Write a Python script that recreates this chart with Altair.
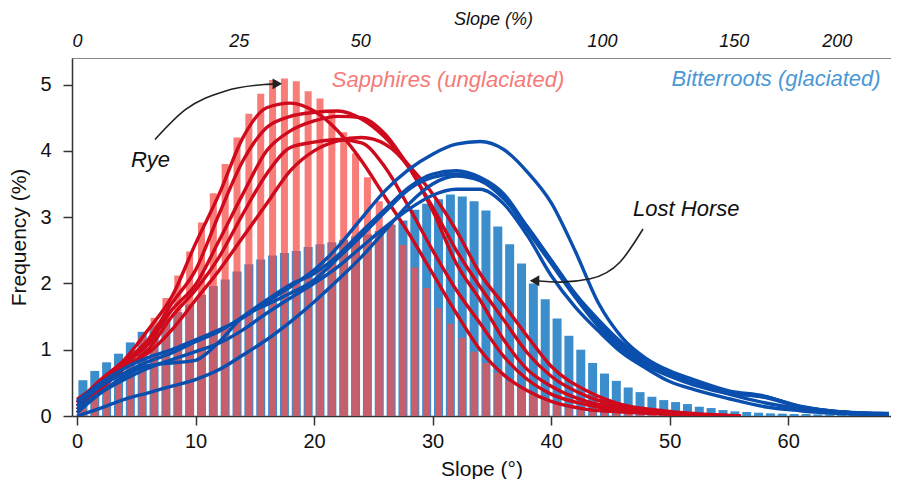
import altair as alt
import pandas as pd

FONT = "Liberation Sans"

# ---------------- histogram data (1-degree bins) ----------------
bin_start = list(range(68))
bitterroots_freq = [
    0.54, 0.68, 0.81, 0.94, 1.11, 1.27, 1.37, 1.46, 1.57, 1.68,
    1.83, 1.96, 2.06, 2.18, 2.29, 2.36, 2.42, 2.46, 2.49, 2.55,
    2.59, 2.62, 2.66, 2.71, 2.74, 2.79, 2.88, 2.95, 3.11, 3.20,
    3.27, 3.34, 3.31, 3.24, 3.10, 2.86, 2.59, 2.30, 2.00, 1.76,
    1.47, 1.21, 1.00, 0.80, 0.64, 0.53, 0.43, 0.36, 0.29, 0.24,
    0.21, 0.18, 0.14, 0.12, 0.09, 0.07, 0.06, 0.05, 0.04, 0.035,
    0.03, 0.03, 0.025, 0.02, 0.02, 0.015, 0.015, 0.01,
]
sapphires_freq = [
    0.12, 0.28, 0.48, 0.70, 0.95, 1.20, 1.48, 1.78, 2.12, 2.48,
    2.92, 3.36, 3.80, 4.20, 4.56, 4.86, 5.07, 5.09, 5.05, 4.90,
    4.79, 4.60, 4.28, 3.96, 3.60, 3.24, 2.90, 2.58, 2.24, 1.93,
    1.63, 1.39, 1.18, 0.97, 0.80, 0.65, 0.52, 0.41, 0.32, 0.24,
    0.17, 0.12, 0.09, 0.07, 0.05, 0.04, 0.03, 0.02, 0.02, 0.01,
    0.01, 0.01, 0, 0, 0, 0, 0, 0, 0, 0,
    0, 0, 0, 0, 0, 0, 0, 0,
]

# ---------------- drainage curves ----------------
red_x = [0, 2, 4, 6, 8, 10, 12, 14, 16, 18, 20, 22, 24, 26, 28, 30, 32, 34, 36, 38, 40, 43, 46, 50, 56]
sapph_1 = [0.20, 0.55, 0.85, 1.30, 1.80, 2.60, 3.35, 4.20, 4.65, 4.72, 4.60, 4.30, 3.85, 3.30, 2.75, 2.15, 1.55, 1.00, 0.62, 0.38, 0.22, 0.10, 0.06, 0.03, 0.0]
sapph_2 = [0.15, 0.50, 0.82, 1.15, 1.70, 2.20, 3.05, 3.85, 4.35, 4.52, 4.58, 4.60, 4.48, 4.20, 3.78, 3.35, 2.80, 2.15, 1.68, 1.20, 0.75, 0.38, 0.17, 0.07, 0.0]
sapph_3 = [0.10, 0.45, 0.78, 1.08, 1.60, 1.98, 2.65, 3.35, 4.00, 4.30, 4.45, 4.52, 4.50, 4.25, 3.75, 3.15, 2.50, 1.95, 1.45, 0.95, 0.60, 0.30, 0.14, 0.05, 0.0]
sapph_4 = [0.05, 0.40, 0.72, 1.00, 1.50, 1.90, 2.40, 3.05, 3.65, 4.05, 4.13, 4.17, 4.12, 3.75, 3.15, 2.50, 1.90, 1.40, 0.90, 0.55, 0.33, 0.17, 0.08, 0.03, 0.0]
sapph_5 = [0.25, 0.50, 0.75, 0.95, 1.30, 1.75, 2.20, 2.70, 3.20, 3.70, 4.00, 4.15, 4.20, 4.10, 3.75, 3.10, 2.30, 1.75, 1.15, 0.70, 0.45, 0.22, 0.11, 0.04, 0.0]

blue_x = [0, 2, 4, 6, 8, 10, 12, 14, 16, 18, 20, 22, 24, 26, 28, 30, 32, 34, 36, 38, 40, 42, 44, 46, 48, 50, 52, 55, 58, 61, 64, 68.5]
bitt_1 = [0.22, 0.50, 0.72, 0.88, 1.00, 1.15, 1.30, 1.48, 1.72, 1.95, 2.20, 2.55, 2.98, 3.40, 3.72, 3.95, 4.10, 4.14, 4.02, 3.68, 3.22, 2.50, 1.70, 1.18, 0.87, 0.68, 0.55, 0.38, 0.30, 0.14, 0.07, 0.04]
bitt_2 = [0.15, 0.45, 0.65, 0.82, 0.95, 1.12, 1.28, 1.50, 1.75, 1.98, 2.15, 2.42, 2.78, 3.12, 3.45, 3.65, 3.70, 3.60, 3.35, 2.85, 2.35, 1.85, 1.40, 1.05, 0.80, 0.62, 0.50, 0.36, 0.28, 0.14, 0.07, 0.03]
bitt_3 = [0.05, 0.35, 0.60, 0.76, 0.80, 0.84, 1.12, 1.50, 1.68, 1.85, 2.05, 2.38, 2.72, 3.08, 3.42, 3.60, 3.65, 3.56, 3.30, 2.80, 2.30, 1.80, 1.35, 1.00, 0.76, 0.60, 0.47, 0.34, 0.29, 0.15, 0.07, 0.03]
bitt_4 = [0.10, 0.35, 0.55, 0.72, 0.85, 0.97, 1.10, 1.30, 1.55, 1.78, 2.00, 2.25, 2.55, 2.85, 3.12, 3.33, 3.42, 3.42, 3.20, 2.72, 2.12, 1.65, 1.28, 0.95, 0.72, 0.52, 0.40, 0.26, 0.14, 0.08, 0.04, 0.02]
bitt_5 = [0.00, 0.12, 0.25, 0.35, 0.45, 0.55, 0.70, 0.92, 1.15, 1.42, 1.72, 2.05, 2.40, 2.80, 3.20, 3.50, 3.62, 3.55, 3.28, 2.85, 2.35, 1.85, 1.45, 1.10, 0.85, 0.65, 0.50, 0.33, 0.20, 0.11, 0.05, 0.02]

# ---------------- top axis (slope in %) ----------------
top_tick_deg = [0, 13.65, 23.9, 44.3, 55.4, 64.1]
top_tick_labels = ["0", "25", "50", "100", "150", "200"]

# ---------------- annotations ----------------
rye_arrow_x = [6.58, 9.14, 12.47, 15.8, 16.9]
rye_arrow_y = [4.17, 4.62, 4.90, 5.00, 5.01]
lost_arrow_x = [38.6, 40.8, 43.3, 45.8, 47.75]
lost_arrow_y = [2.04, 2.02, 2.07, 2.32, 2.82]

RED_LINE = "#cf0a1c"
BLUE_LINE = "#0b4fae"
BLUE_BAR = "#3b8dcc"
RED_BAR = "#f5504b"

# ---------------- build tables ----------------
bars_df = pd.DataFrame({"bin": bin_start, "blue": bitterroots_freq, "red": sapphires_freq})

rows = []
for name, ys in [("s1", sapph_1), ("s2", sapph_2), ("s3", sapph_3), ("s4", sapph_4), ("s5", sapph_5)]:
    for xv, yv in zip(red_x, ys):
        rows.append({"x": xv, "y": yv, "curve": name})
red_df = pd.DataFrame(rows)
rows = []
for name, ys in [("b1", bitt_1), ("b2", bitt_2), ("b3", bitt_3), ("b4", bitt_4), ("b5", bitt_5)]:
    for xv, yv in zip(blue_x, ys):
        rows.append({"x": xv, "y": yv, "curve": name})
blue_df = pd.DataFrame(rows)

xscale = alt.Scale(domain=[0, 68.25], nice=False, zero=False)
yscale = alt.Scale(domain=[0, 5.4], nice=False)

y_axis = alt.Axis(
    values=[0, 1, 2, 3, 4, 5], title="Frequency (%)", grid=False, tickSize=9,
    labelPadding=12, labelFontSize=20, titleFontSize=21, titleFontWeight="normal",
    titlePadding=10, domainColor="#333", tickColor="#333", labelColor="#111",
    titleColor="#111", domainWidth=1.5, tickWidth=1.5,
)
bottom_axis = alt.Axis(
    orient="bottom", values=[0, 10, 20, 30, 40, 50, 60], title="Slope (°)", grid=False,
    tickSize=9, labelPadding=6, labelFontSize=20, titleFontSize=21,
    titleFontWeight="normal", titlePadding=7, domainColor="#333", tickColor="#333",
    labelColor="#111", titleColor="#111", domainWidth=1.5, tickWidth=1.5,
    labelFlush=False,
)
pos_js = "[" + ",".join(str(v) for v in top_tick_deg) + "]"
lab_js = "[" + ",".join("'" + s + "'" for s in top_tick_labels) + "]"
top_axis = alt.Axis(
    orient="top", values=top_tick_deg, labelExpr=f"{lab_js}[indexof({pos_js}, datum.value)]",
    title="Slope (%)", titleX=421, ticks=False, tickSize=0, grid=False, labelPadding=8,
    labelFontSize=18, labelFontStyle="italic", titleFontSize=18, titleFontStyle="italic",
    titleFontWeight="normal", titlePadding=4, domainColor="#888", domainWidth=1.2,
    labelColor="#111", titleColor="#111", labelFlush=False, labelOverlap=False,
)


def Y(field):
    return alt.Y(field, scale=yscale, axis=y_axis)


bars = alt.Chart(bars_df).transform_calculate(mid="datum.bin + 0.5")
blue_bars = bars.mark_bar(width=9, color=BLUE_BAR).encode(
    x=alt.X("mid:Q", scale=xscale, axis=bottom_axis),
    y=Y("blue:Q"),
)
red_bars = bars.mark_bar(width=7, color=RED_BAR, opacity=0.75).encode(
    x=alt.X("mid:Q", scale=xscale, axis=None),
    y=Y("red:Q"),
)
red_lines = alt.Chart(red_df).mark_line(
    color=RED_LINE, strokeWidth=3.4, interpolate="monotone", clip=True
).encode(
    x=alt.X("x:Q", scale=xscale, axis=None),
    y=Y("y:Q"),
    detail="curve:N",
)
blue_lines = alt.Chart(blue_df).mark_line(
    color=BLUE_LINE, strokeWidth=3.4, interpolate="monotone", clip=True
).encode(
    x=alt.X("x:Q", scale=xscale, axis=None),
    y=Y("y:Q"),
    detail="curve:N",
)

rye_df = pd.DataFrame({"x": rye_arrow_x, "y": rye_arrow_y})
lost_df = pd.DataFrame({"x": lost_arrow_x, "y": lost_arrow_y})
rye_line = alt.Chart(rye_df).mark_line(color="#222", strokeWidth=1.6, interpolate="monotone").encode(
    x=alt.X("x:Q", scale=xscale, axis=None), y=Y("y:Q"))
lost_line = alt.Chart(lost_df).mark_line(color="#222", strokeWidth=1.6, interpolate="monotone").encode(
    x=alt.X("x:Q", scale=xscale, axis=None), y=Y("y:Q"))

rye_head = alt.Chart(pd.DataFrame({"x": [rye_arrow_x[-1]], "y": [rye_arrow_y[-1]]})).mark_point(
    shape="triangle-right", filled=True, size=120, color="#222", opacity=1).encode(
    x=alt.X("x:Q", scale=xscale, axis=None), y=Y("y:Q"))
lost_head = alt.Chart(pd.DataFrame({"x": [lost_arrow_x[0]], "y": [lost_arrow_y[0]]})).mark_point(
    shape="triangle-left", filled=True, size=120, color="#222", opacity=1).encode(
    x=alt.X("x:Q", scale=xscale, axis=None), y=Y("y:Q"))

sapph_label = alt.Chart(pd.DataFrame({"x": [21.5], "y": [4.96], "t": ["Sapphires (unglaciated)"]})).mark_text(
    align="left", baseline="alphabetic", fontSize=22, fontStyle="italic", color="#f57a78", font=FONT
).encode(
    x=alt.X("x:Q", scale=xscale, axis=top_axis), y=Y("y:Q"), text="t:N")
bitt_label = alt.Chart(pd.DataFrame({"x": [67.8], "y": [4.98], "t": ["Bitterroots (glaciated)"]})).mark_text(
    align="right", baseline="alphabetic", fontSize=22, fontStyle="italic", color="#4a98d6", font=FONT
).encode(
    x=alt.X("x:Q", scale=xscale, axis=None), y=Y("y:Q"), text="t:N")
names = alt.Chart(pd.DataFrame({"x": [6.2, 51.4], "y": [3.75, 3.02], "t": ["Rye", "Lost Horse"]})).mark_text(
    align="center", baseline="alphabetic", fontSize=22, fontStyle="italic", color="#111", font=FONT
).encode(
    x=alt.X("x:Q", scale=xscale, axis=None), y=Y("y:Q"), text="t:N")

chart = alt.layer(
    blue_bars, red_bars, red_lines, blue_lines,
    rye_line, rye_head, lost_line, lost_head,
    sapph_label, bitt_label, names,
).resolve_axis(x="independent").properties(
    width=819, height=358,
    padding={"left": 0, "top": 2, "right": 0, "bottom": 0},
    background="white",
).configure_view(stroke=None).configure_axis(labelFont=FONT, titleFont=FONT)

chart.save("out.html", embed_options={"renderer": "svg", "actions": False})
